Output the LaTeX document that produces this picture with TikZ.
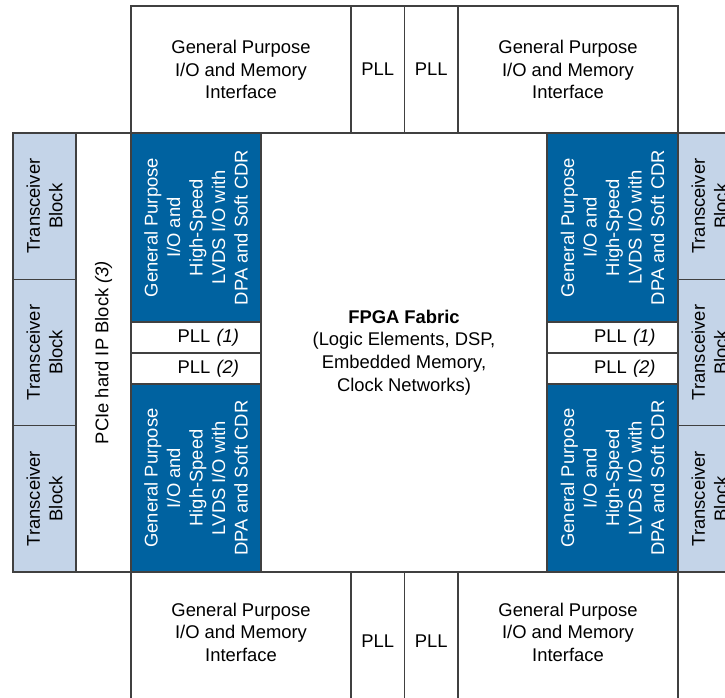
\documentclass[tikz,border=0pt]{standalone}
\usepackage{fontspec}
\setmainfont{Liberation Sans}
\definecolor{lvdsblue}{RGB}{0,98,160}
\definecolor{xcvrblue}{RGB}{196,212,232}
\definecolor{edgegray}{RGB}{64,64,64}

\begin{document}
\begin{tikzpicture}[x=0.75pt, y=-0.75pt,
  every node/.style={align=center, font=\fontsize{13.8}{16.9}\selectfont, inner sep=0pt},
  pio/.style={draw=edgegray, fill=white, line width=0.8pt,
              minimum width=165pt, minimum height=95.25pt},
  ppll/.style={draw=edgegray, fill=white, line width=0.8pt,
               minimum width=40.125pt, minimum height=95.25pt},
  plvds/.style={draw=edgegray, fill=lvdsblue, text=white, line width=0.8pt, rotate=90,
                minimum height=97.5pt},
  psmallpll/.style={draw=edgegray, fill=white, line width=0.8pt,
                    minimum width=97.5pt, minimum height=23.25pt,
                    inner xsep=16.5pt, text width=64.5pt, align=right},
  pxcvr/.style={draw=edgegray, fill=xcvrblue, line width=0.8pt, rotate=90,
                minimum width=109.75pt, minimum height=47.25pt},
  ppcie/.style={draw=edgegray, fill=white, line width=0.8pt, rotate=90,
                minimum width=329.25pt, minimum height=41.25pt},
  pfabric/.style={draw=edgegray, fill=white, line width=0.8pt,
                  minimum width=214.5pt, minimum height=329.25pt}
]
\useasboundingbox (0,0) rectangle (725,698);
\clip (0,0) rectangle (725,698);

% top row
\node[pio] (iotl) at (241,69.5) {General Purpose\\I/O and Memory\\Interface};
\node[ppll] (plltl) at (377.75,69.5) {PLL};
\node[ppll] (plltr) at (431.25,69.5) {PLL};
\node[pio] (iotr) at (568,69.5) {General Purpose\\I/O and Memory\\Interface};

% bottom row (runs past the lower edge)
\node[pio, minimum height=103.5pt, text depth=13.5pt] (iobl) at (241,641)
  {General Purpose\\I/O and Memory\\Interface};
\node[ppll, minimum height=103.5pt] (pllbl) at (377.75,641) {PLL};
\node[ppll, minimum height=103.5pt] (pllbr) at (431.25,641) {PLL};
\node[pio, minimum height=103.5pt, text depth=13.5pt] (iobr) at (568,641)
  {General Purpose\\I/O and Memory\\Interface};

% left side
\node[pxcvr] (xl1) at (44.5,206.17) {Transceiver\\Block};
\node[pxcvr] (xl2) at (44.5,352.5) {Transceiver\\Block};
\node[pxcvr] (xl3) at (44.5,498.83) {Transceiver\\Block};
\node[ppcie] (pcie) at (103.5,352.5) {PCIe hard IP Block \textit{(3)}};

\node[plvds, minimum width=141.75pt] (lvtl) at (196,227.5)
  {General Purpose\\I/O and\\High-Speed\\LVDS I/O with\\DPA and Soft CDR};
\node[psmallpll] (pll1l) at (196,337.5) {PLL \textit{(1)}};
\node[psmallpll] (pll2l) at (196,368.5) {PLL \textit{(2)}};
\node[plvds, minimum width=141pt] (lvbl) at (196,478)
  {General Purpose\\I/O and\\High-Speed\\LVDS I/O with\\DPA and Soft CDR};

% core
\node[pfabric] (fabric) at (404,352.5)
  {\textbf{FPGA Fabric}\\(Logic Elements, DSP,\\Embedded Memory,\\Clock Networks)};

% right side
\node[plvds, minimum width=141.75pt, minimum height=98.25pt] (lvtr) at (612.5,227.5)
  {General Purpose\\I/O and\\High-Speed\\LVDS I/O with\\DPA and Soft CDR};
\node[psmallpll, minimum width=98.25pt] (pll1r) at (612.5,337.5) {PLL \textit{(1)}};
\node[psmallpll, minimum width=98.25pt] (pll2r) at (612.5,368.5) {PLL \textit{(2)}};
\node[plvds, minimum width=141pt, minimum height=98.25pt] (lvbr) at (612.5,478)
  {General Purpose\\I/O and\\High-Speed\\LVDS I/O with\\DPA and Soft CDR};

\node[pxcvr] (xr1) at (709.5,206.17) {Transceiver\\Block};
\node[pxcvr] (xr2) at (709.5,352.5) {Transceiver\\Block};
\node[pxcvr] (xr3) at (709.5,498.83) {Transceiver\\Block};
\end{tikzpicture}
\end{document}
